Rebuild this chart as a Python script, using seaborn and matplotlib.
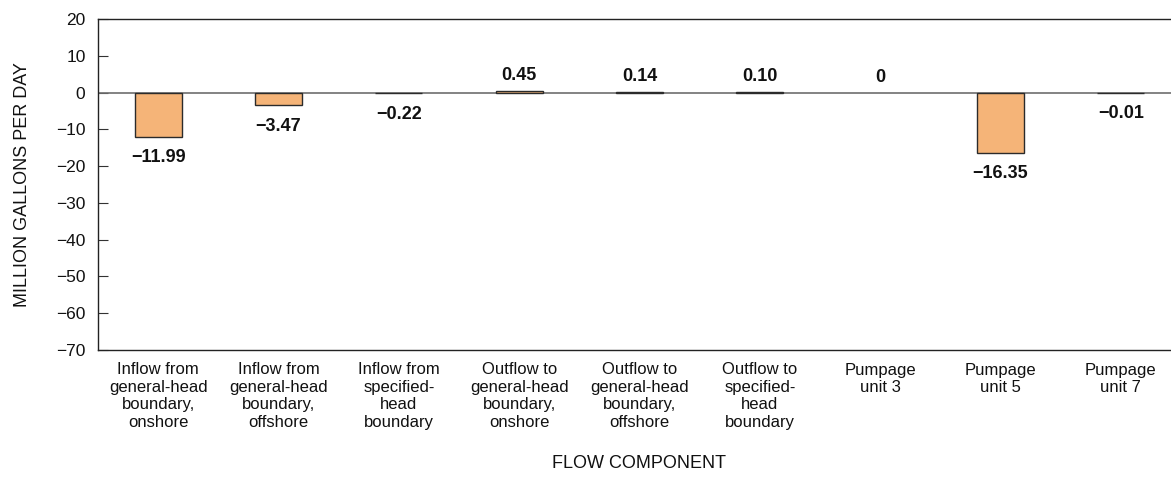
import matplotlib
matplotlib.use("Agg")
import matplotlib.pyplot as plt
import seaborn as sns
import pandas as pd

categories = [
    "Inflow from\ngeneral-head\nboundary,\nonshore",
    "Inflow from\ngeneral-head\nboundary,\noffshore",
    "Inflow from\nspecified-\nhead\nboundary",
    "Outflow to\ngeneral-head\nboundary,\nonshore",
    "Outflow to\ngeneral-head\nboundary,\noffshore",
    "Outflow to\nspecified-\nhead\nboundary",
    "Pumpage\nunit 3",
    "Pumpage\nunit 5",
    "Pumpage\nunit 7",
]
values = [-11.99, -3.47, -0.22, 0.45, 0.14, 0.10, 0.0, -16.35, -0.01]
value_labels = ["\u221211.99", "\u22123.47", "\u22120.22", "0.45", "0.14", "0.10", "0", "\u221216.35", "\u22120.01"]
yticks = [20, 10, 0, -10, -20, -30, -40, -50, -60, -70]

sns.set_theme(style="white")
plt.rcParams["font.family"] = ["Liberation Sans", "DejaVu Sans"]
plt.rcParams["axes.unicode_minus"] = True

df = pd.DataFrame({"component": categories, "flow": values})

fig = plt.figure(figsize=(11.71, 4.88), dpi=100)
ax = fig.add_axes([98 / 1171, 138 / 488, (1181 - 98) / 1171, (350 - 19) / 488])

sns.barplot(data=df, x="component", y="flow", order=categories, color="#F5B478",
            saturation=1, width=0.39, edgecolor="#2b2b2b", linewidth=1.0, ax=ax, zorder=3)

# hide the outline of zero-height bars
for p in ax.patches:
    if abs(p.get_height()) < 1e-9:
        p.set_linewidth(0)

ax.axhline(0, color="#6e6e6e", linewidth=1.2, zorder=2)

for i, (v, lab) in enumerate(zip(values, value_labels)):
    if v < 0:
        ax.annotate(lab, xy=(i, v), xytext=(0, -9), textcoords="offset points",
                    ha="center", va="top", fontsize=13, fontweight="bold", color="#111111")
    else:
        ax.annotate(lab, xy=(i, v), xytext=(0, 5), textcoords="offset points",
                    ha="center", va="bottom", fontsize=13, fontweight="bold", color="#111111")

ax.set_xlim(-0.5, 8.5)
ax.set_ylim(-70, 20)
ax.set_yticks(yticks)
ax.set_yticklabels([str(t).replace("-", "\u2212") for t in yticks])

ax.tick_params(axis="y", direction="in", length=7, width=0.8, color="#333333",
               labelsize=12.5, pad=9, left=True, right=True, labelcolor="#111111")
ax.tick_params(axis="x", length=0, labelsize=12, pad=9, labelcolor="#111111")
for lbl in ax.get_xticklabels():
    lbl.set_linespacing(1.2)

for s in ax.spines.values():
    s.set_color("#222222")
    s.set_linewidth(1.0)
    s.set_visible(True)

ax.set_xlabel("FLOW COMPONENT", fontsize=13, color="#111111", labelpad=18)
ax.set_ylabel("MILLION GALLONS PER DAY", fontsize=13, color="#111111", labelpad=18)

fig.savefig("out.png", dpi=100)
